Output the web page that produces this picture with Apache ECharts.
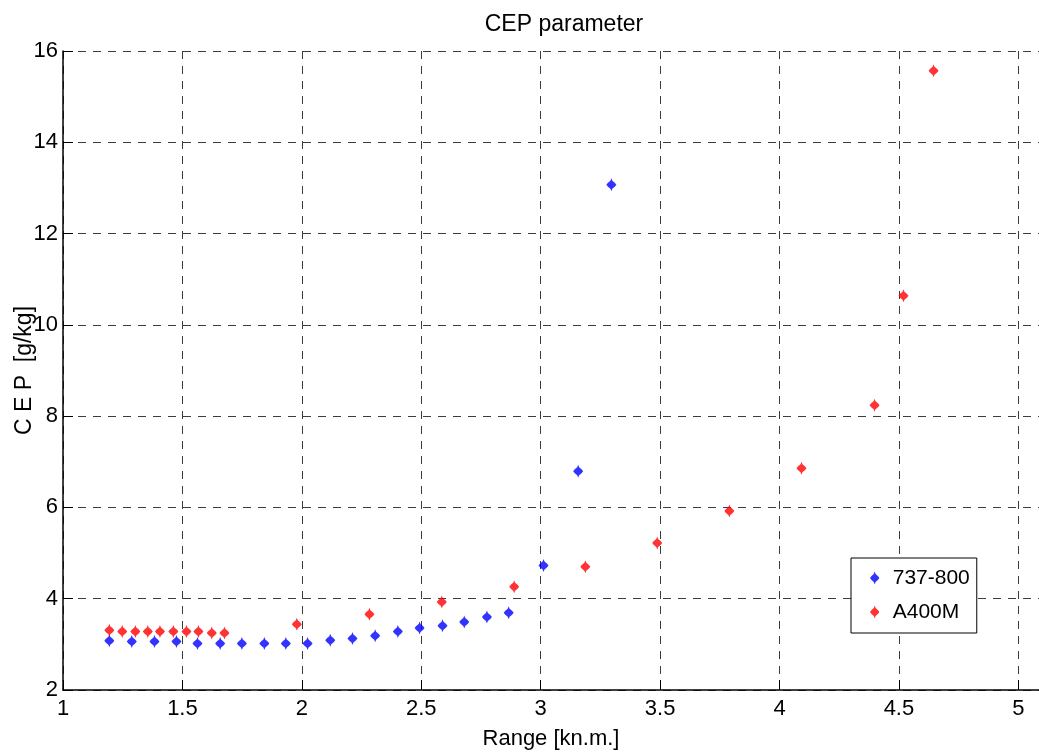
<!DOCTYPE html>
<html>
<head>
<meta charset="utf-8">
<title>CEP parameter</title>
<script src="https://cdn.jsdelivr.net/npm/echarts@6/dist/echarts.min.js"></script>
<style>
  html, body { margin: 0; padding: 0; background: #fff; }
  #chart { width: 1039px; height: 756px; }
</style>
</head>
<body>
<div id="chart"></div>
<script>
// Range [kn.m.] and CEP [g/kg] for each aircraft
const range737 = [1.194, 1.288, 1.383, 1.475, 1.563, 1.658, 1.749, 1.843, 1.933, 2.024,
                  2.119, 2.212, 2.307, 2.402, 2.493, 2.589, 2.680, 2.775, 2.866, 3.012,
                  3.157, 3.296];
const cep737   = [3.08, 3.06, 3.06, 3.06, 3.02, 3.02, 3.02, 3.02, 3.02, 3.02,
                  3.09, 3.13, 3.19, 3.28, 3.36, 3.41, 3.49, 3.60, 3.69, 4.73,
                  6.79, 13.07];

const rangeA400 = [1.194, 1.248, 1.303, 1.355, 1.406, 1.462, 1.517, 1.567, 1.623, 1.676,
                   1.979, 2.283, 2.586, 2.889, 3.187, 3.488, 3.790, 4.092, 4.398, 4.519,
                   4.645];
const cepA400   = [3.31, 3.28, 3.28, 3.28, 3.28, 3.28, 3.28, 3.28, 3.25, 3.25,
                   3.44, 3.66, 3.93, 4.26, 4.70, 5.22, 5.92, 6.86, 8.24, 10.64,
                   15.57];

const seriesNames = ['737-800', 'A400M'];
const xTicks = [1, 1.5, 2, 2.5, 3, 3.5, 4, 4.5, 5];
const yTicks = [2, 4, 6, 8, 10, 12, 14, 16];

const pairs = (xs, ys) => xs.map((x, i) => [x, ys[i]]);

// diamond-bodied marker with a longer vertical spike
const marker = 'path://M0,-6.5 L0.9,-4 L3.2,-2 L4.7,0 L3.2,2 L0.9,4 L0,6.5 L-0.9,4 L-3.2,2 L-4.7,0 L-3.2,-2 L-0.9,-4 Z';

const FONT = '"Liberation Sans", Arial, sans-serif';

const chart = echarts.init(document.getElementById('chart'), null, { renderer: 'canvas' });

chart.setOption({
  backgroundColor: '#ffffff',
  animation: false,
  title: {
    text: 'CEP parameter',
    left: 559,
    top: 8,
    textAlign: 'center',
    textStyle: { fontFamily: FONT, fontSize: 23, fontWeight: 'normal', color: '#000' }
  },
  grid: { left: 63, top: 51, right: -8, bottom: 66, containLabel: false, outerBoundsMode: 'none' },
  xAxis: {
    type: 'value',
    min: 1,
    max: 5.12,
    interval: 0.5,
    name: 'Range [kn.m.]',
    nameLocation: 'middle',
    nameGap: 38,
    nameMoveOverlap: false,
    nameTextStyle: { fontFamily: FONT, fontSize: 22, color: '#000', padding: [0, 8, 0, 0] },
    axisLine: { show: true, onZero: false, lineStyle: { color: '#000', width: 1.5 } },
    axisTick: { show: true, inside: true, length: 10, lineStyle: { color: '#000', width: 1 } },
    axisLabel: {
      margin: 8,
      fontFamily: FONT, fontSize: 22, color: '#000',
      formatter: v => (xTicks.some(t => Math.abs(t - v) < 1e-6) ? String(v) : '')
    },
    splitLine: { show: true, lineStyle: { color: '#3c3c3c', width: 1, type: [8, 7] } }
  },
  yAxis: {
    type: 'value',
    min: 2,
    max: 16,
    interval: 2,
    name: 'C E P  [g/kg]',
    nameLocation: 'middle',
    nameGap: 27,
    nameMoveOverlap: false,
    nameTextStyle: { fontFamily: FONT, fontSize: 23, color: '#000' },
    axisLine: { show: true, onZero: false, lineStyle: { color: '#000', width: 1.5 } },
    axisTick: { show: true, inside: true, length: 10, lineStyle: { color: '#000', width: 1 } },
    axisLabel: {
      margin: 5,
      fontFamily: FONT, fontSize: 22, color: '#000',
      formatter: v => (yTicks.includes(v) ? String(v) : '')
    },
    splitLine: { show: true, lineStyle: { color: '#3c3c3c', width: 1, type: [8, 7] } }
  },
  legend: {
    orient: 'vertical',
    left: 851,
    top: 558,
    padding: [8, 7, 9, 19],
    itemGap: 10,
    itemWidth: 14,
    itemHeight: 13,
    backgroundColor: '#fff',
    borderColor: '#000',
    borderWidth: 1,
    borderRadius: 0,
    textStyle: { fontFamily: FONT, fontSize: 21, color: '#000', lineHeight: 24, padding: [0, 0, 0, 6] },
    data: seriesNames.map(n => ({ name: n, icon: marker }))
  },
  series: [
    {
      name: seriesNames[0],
      type: 'scatter',
      symbol: marker,
      symbolSize: [10, 13],
      itemStyle: { color: '#0000ff' },
      data: pairs(range737, cep737)
    },
    {
      name: seriesNames[1],
      type: 'scatter',
      symbol: marker,
      symbolSize: [10, 13],
      itemStyle: { color: '#ff0000' },
      data: pairs(rangeA400, cepA400)
    }
  ]
});
</script>
</body>
</html>
